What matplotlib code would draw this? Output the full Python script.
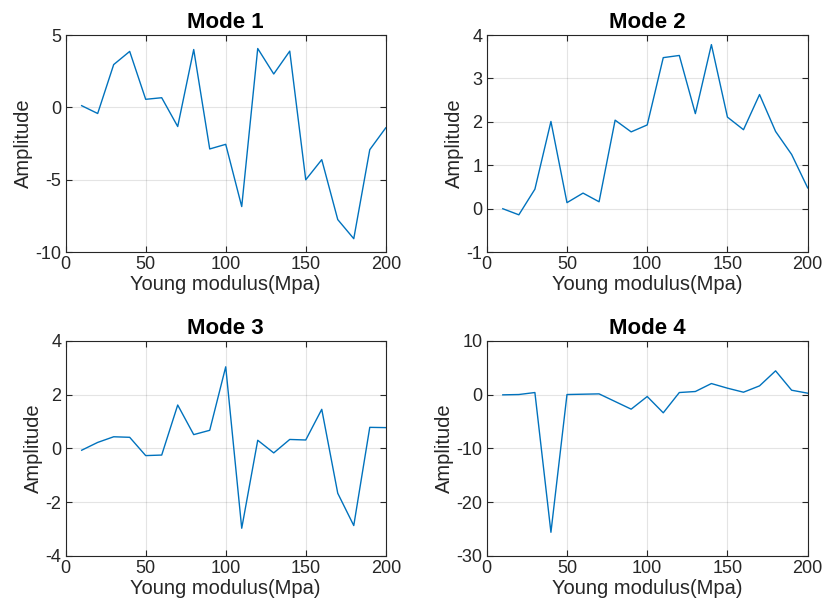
import numpy as np
import matplotlib
matplotlib.use('Agg')
import matplotlib.pyplot as plt

# Young modulus values (x axis)
young = [10, 20, 30, 40, 50, 60, 70, 80, 90, 100,
         110, 120, 130, 140, 150, 160, 170, 180, 190, 200]

mode1 = [0.12, -0.42, 2.96, 3.87, 0.56, 0.67, -1.32, 4.0, -2.87, -2.55,
         -6.85, 4.07, 2.31, 3.89, -5.0, -3.61, -7.75, -9.07, -2.92, -1.41]
mode2 = [0.0, -0.14, 0.45, 2.01, 0.14, 0.36, 0.16, 2.04, 1.77, 1.93,
         3.48, 3.53, 2.19, 3.78, 2.11, 1.82, 2.63, 1.78, 1.25, 0.48]
mode3 = [-0.07, 0.22, 0.43, 0.41, -0.27, -0.25, 1.61, 0.51, 0.67, 3.03,
         -2.97, 0.30, -0.17, 0.33, 0.31, 1.45, -1.67, -2.87, 0.78, 0.77]
mode4 = [-0.06, 0.0, 0.37, -25.6, 0.0, 0.06, 0.12, -1.3, -2.72, -0.37,
         -3.4, 0.37, 0.56, 2.04, 1.18, 0.43, 1.61, 4.4, 0.8, 0.25]

titles = ['Mode 1', 'Mode 2', 'Mode 3', 'Mode 4']
modes = [mode1, mode2, mode3, mode4]
yticks = [[-10, -5, 0, 5], [-1, 0, 1, 2, 3, 4], [-4, -2, 0, 2, 4], [-30, -20, -10, 0, 10]]

plt.rcParams['font.family'] = ['Liberation Sans', 'DejaVu Sans']
plt.rcParams['axes.unicode_minus'] = False
axis_col = '#262626'

fig = plt.figure(figsize=(8.25, 6.15), dpi=100)
positions = [[0.0796, 0.590, 0.388, 0.353],
             [0.590, 0.590, 0.389, 0.353],
             [0.0796, 0.096, 0.388, 0.350],
             [0.590, 0.096, 0.389, 0.350]]

for pos, title, vals, yt in zip(positions, titles, modes, yticks):
    ax = fig.add_axes(pos)
    ax.plot(young, vals, color='#0072BD', linewidth=1.0)
    ax.set_xlim(0, 200)
    ax.set_ylim(yt[0], yt[-1])
    ax.set_xticks([0, 50, 100, 150, 200])
    ax.set_yticks(yt)
    ax.grid(True, color='#262626', alpha=0.12, linewidth=0.8)
    ax.set_axisbelow(True)
    for s in ax.spines.values():
        s.set_color(axis_col)
        s.set_linewidth(0.8)
    ax.tick_params(direction='in', length=4, width=0.8, colors=axis_col,
                   labelsize=13, top=True, right=True, pad=3)
    ax.set_xlabel('Young modulus(Mpa)', fontsize=14.5, color=axis_col, labelpad=1)
    ax.set_ylabel('Amplitude', fontsize=14.5, color=axis_col, labelpad=2)
    ax.set_title(title, fontsize=16, fontweight='bold', pad=5)

fig.savefig('out.png', dpi=100)
